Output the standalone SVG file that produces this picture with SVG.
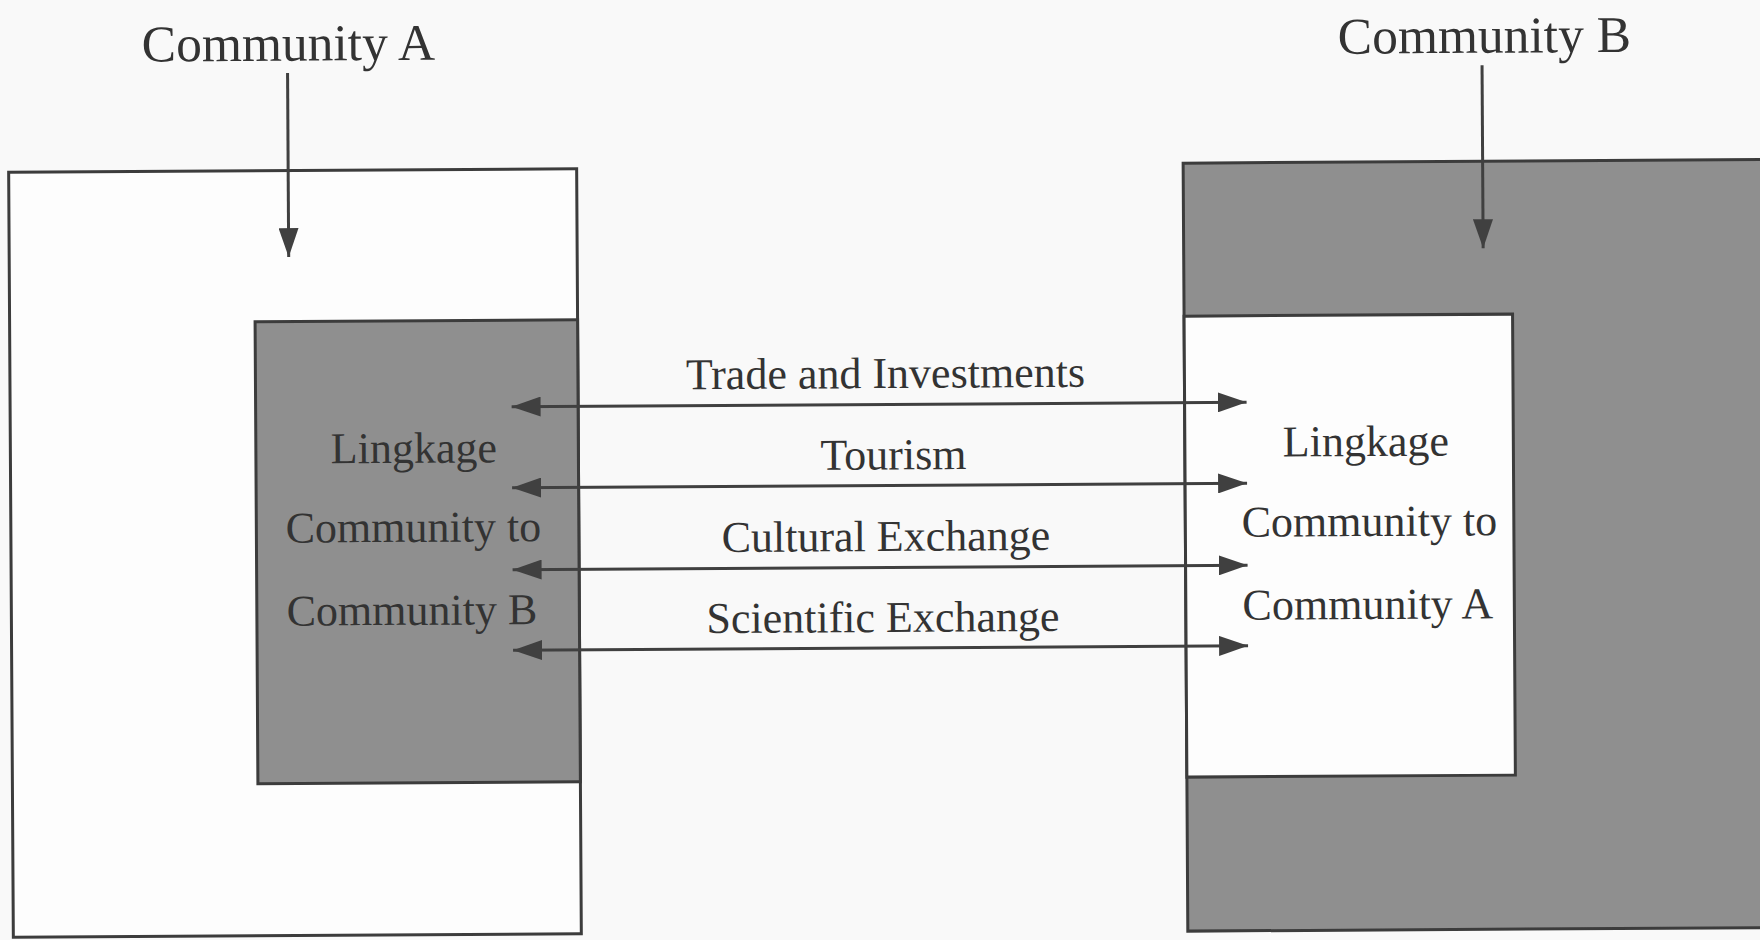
<svg xmlns="http://www.w3.org/2000/svg" width="1760" height="940" viewBox="0 0 1760 940">
  <style>
    .frame { stroke: #3c3c3c; stroke-width: 3; }
    .light { fill: #fdfdfd; }
    .shade { fill: #8f8f8f; }
    .link { stroke: #404040; stroke-width: 3; fill: none; }
    .title { font-family: "Liberation Serif", "Times New Roman", serif; font-size: 51.5px; fill: #333333; text-anchor: middle; }
    .label { font-family: "Liberation Serif", "Times New Roman", serif; font-size: 44px; fill: #333333; text-anchor: middle; }
  </style>
  <defs>
    <marker id="head" markerUnits="userSpaceOnUse" markerWidth="30" markerHeight="20" refX="29" refY="10" orient="auto-start-reverse" viewBox="0 0 30 20">
      <path d="M0,0 L29,10 L0,20 Z" fill="#404040"/>
    </marker>
  </defs>

  <rect x="0" y="0" width="1760" height="940" fill="#f9f9f9"/>

  <g transform="rotate(-0.35 880 470)">
    <!-- Community A: white outer block with shaded linkage zone -->
    <g id="community-a">
      <rect class="frame light" x="10.5" y="167" width="568" height="765"/>
      <text class="title" x="291" y="57">Community A</text>
    </g>
    <g id="linkage-a-to-b">
      <rect class="frame shade" x="256" y="318" width="322.5" height="462"/>
      <text class="label" x="414" y="460">Lingkage</text>
      <text class="label" x="413" y="539">Community to</text>
      <text class="label" x="411" y="622">Community B</text>
    </g>

    <!-- Community B: shaded outer block with white linkage zone -->
    <g id="community-b">
      <rect class="frame shade" x="1185" y="165" width="590" height="768"/>
      <text class="title" x="1487" y="56.5">Community B</text>
    </g>
    <g id="linkage-b-to-a">
      <rect class="frame light" x="1185" y="318" width="328.5" height="461"/>
      <text class="label" x="1366" y="459">Lingkage</text>
      <text class="label" x="1369" y="539">Community to</text>
      <text class="label" x="1367" y="622">Community A</text>
    </g>

    <!-- exchange flows between the two linkage zones -->
    <g id="connectors">
      <line class="link" x1="290" y1="69.5" x2="290" y2="253.5" marker-end="url(#head)"/>
      <line class="link" x1="1484.5" y1="69" x2="1484.5" y2="252" marker-end="url(#head)"/>

      <line class="link" x1="512" y1="404.5" x2="1247" y2="404.5" marker-start="url(#head)" marker-end="url(#head)"/>
      <line class="link" x1="512" y1="485.5" x2="1247" y2="485.5" marker-start="url(#head)" marker-end="url(#head)"/>
      <line class="link" x1="512" y1="567.5" x2="1247" y2="567.5" marker-start="url(#head)" marker-end="url(#head)"/>
      <line class="link" x1="512" y1="648" x2="1247" y2="648" marker-start="url(#head)" marker-end="url(#head)"/>

      <text class="label" x="886" y="388">Trade and Investments</text>
      <text class="label" x="893.5" y="469.5">Tourism</text>
      <text class="label" x="885.5" y="551">Cultural Exchange</text>
      <text class="label" x="882" y="632">Scientific Exchange</text>
    </g>
  </g>
</svg>
